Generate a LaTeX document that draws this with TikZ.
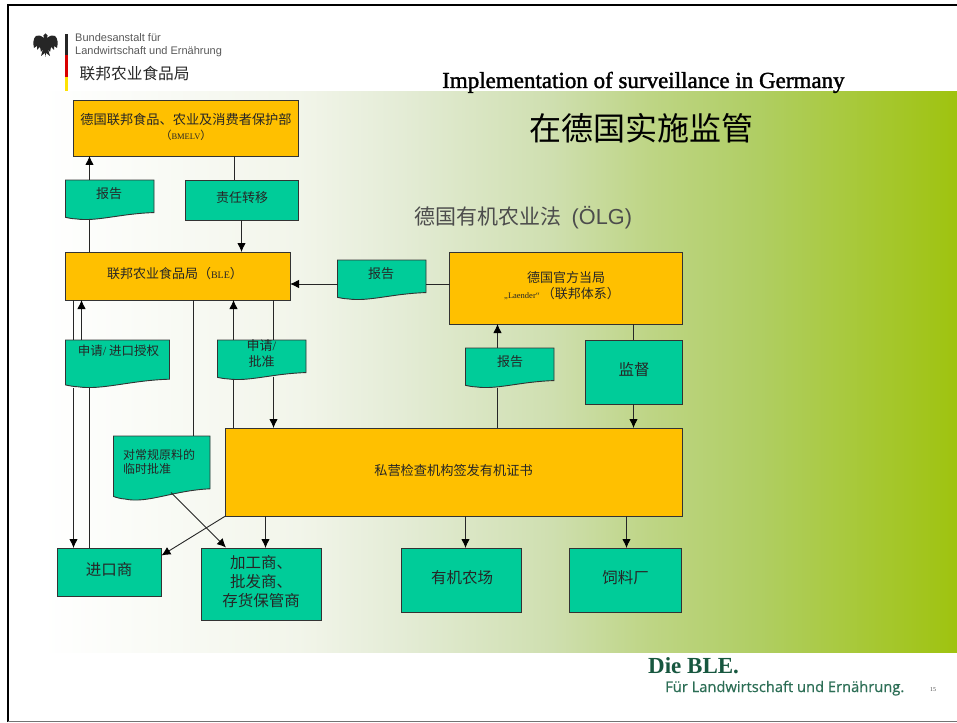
\documentclass[tikz,border=0pt]{standalone}
\usepackage{fontspec}
\setmainfont{Liberation Serif}
\newfontfamily\cjk{Noto Sans CJK SC}
\newfontfamily\titlefont[FakeBold=1.5]{Liberation Serif}
\newfontfamily\logosans[FakeBold=0.6]{Open Sans}
\newfontfamily\arialfont{Liberation Sans}
\usetikzlibrary{arrows.meta}
\definecolor{boxorange}{HTML}{FFC000}
\definecolor{boxteal}{HTML}{00CC99}
\definecolor{logogreen}{HTML}{17573F}
\definecolor{logogreenb}{HTML}{2C6E55}
\definecolor{gradb}{RGB}{242,245,234}
\definecolor{gradc}{RGB}{228,236,214}
\definecolor{gradd}{RGB}{207,223,176}
\definecolor{grade}{RGB}{190,213,133}
\definecolor{gradf}{RGB}{176,206,100}
\definecolor{gradg}{RGB}{159,195,15}
\pgfdeclarehorizontalshading{bandshade}{100bp}{
  color(0bp)=(white); color(25bp)=(white);
  color(39bp)=(gradb);
  color(44.6bp)=(gradc);
  color(52.8bp)=(gradd);
  color(58.2bp)=(grade);
  color(64bp)=(gradf);
  color(75bp)=(gradg);
  color(100bp)=(gradg)}
\tikzset{
  x=1pt,y=-1pt,
  orangebox/.style={draw=black!80,line width=0.9pt,fill=boxorange,inner sep=0,outer sep=0,rectangle},
  tealbox/.style={draw=black!80,line width=0.9pt,fill=boxteal,inner sep=0,outer sep=0,rectangle},
  docedge/.style={draw=black!80,line width=0.9pt,fill=boxteal},
  docframe/.style={inner sep=0,outer sep=0,rectangle},
  zh/.style n args={2}{font=\cjk\fontsize{#1}{#2}\selectfont,align=center,inner sep=0,text=black!85},
  link/.style={draw=black!85,line width=0.9pt},
  arr/.style={link,-{Latex[length=9pt,width=8.5pt,black]}},
}
% name, x1, y1, x2, y2: wave-bottomed document box with a named frame
\newcommand{\docbox}[5]{%
  \path[docedge] (#2,#3) -- (#4,#3) -- (#4,{#3+0.825*(#5-#3)})
    .. controls ({#2+0.62*(#4-#2)},{#3+0.85*(#5-#3)}) and ({#2+0.35*(#4-#2)},{#3+1.06*(#5-#3)})
    .. ({#2+0.12*(#4-#2)},{#3+0.985*(#5-#3)})
    .. controls ({#2+0.07*(#4-#2)},{#3+0.98*(#5-#3)}) and ({#2+0.03*(#4-#2)},{#3+0.96*(#5-#3)})
    .. (#2,{#3+0.945*(#5-#3)}) -- cycle;
  \node[docframe,minimum width={(#4-#2)*1pt},minimum height={(#5-#3)*1pt}] (#1) at ({(#2+#4)/2},{(#3+#5)/2}) {};}
% name, style, x1, y1, x2, y2
\newcommand{\rectbox}[6]{%
  \node[#2,minimum width={(#5-#3)*1pt},minimum height={(#6-#4)*1pt}] (#1) at ({(#3+#5)/2},{(#4+#6)/2}) {};}
\begin{document}
\begin{tikzpicture}
\useasboundingbox (0,0) rectangle (957,722);
\fill[white] (0,0) rectangle (957,722);
% gradient band
\shade[shading=bandshade] (42,92) rectangle (957,652);
% slide frame
\draw[black,line width=2.4pt] (8,722) -- (8,5) -- (957,5);
\draw[black!55,line width=1pt] (8,721) -- (957,721);
% logo
\fill[black!85] (45.5,33.5) .. controls (43,34) and (43,37) .. (44,38)
  .. controls (42,36) and (40,35) .. (36,36) .. controls (33,38) and (33,44) .. (34,48)
  -- (37,46) -- (37,50) -- (40,47) -- (41,52) -- (43,49) -- (41,56) -- (45,53) -- (45.5,57)
  -- (46,53) -- (50,56) -- (48,49) -- (50,52) -- (51,47) -- (54,50) -- (54,46) -- (57,48)
  .. controls (58,44) and (58,38) .. (55,36) .. controls (51,35) and (49,36) .. (47,38)
  .. controls (48,37) and (48,34) .. (45.5,33.5) -- cycle;
\fill[black!85] (64.8,34.5) rectangle (67.6,55);
\fill[red!85!black] (64.8,55) rectangle (67.6,77);
\fill[yellow!85!orange] (64.8,77) rectangle (67.6,91.5);
\node[font=\arialfont\fontsize{11}{13}\selectfont,text=black!65,align=left,inner sep=0,anchor=north west] (logotext) at (75,33) {Bundesanstalt für\\Landwirtschaft und Ernährung};
\node[zh={15.7}{18},anchor=west] (bletop) at (79.5,74) {联邦农业食品局};
% titles
\node[font=\titlefont\fontsize{23}{26}\selectfont,inner sep=0,anchor=base west] (titleen) at (442,88) {Implementation of surveillance in Germany};
\node[zh={32}{36},text=black] (titlezh) at (641.5,128) {在德国实施监管};
\node[font=\cjk\fontsize{21}{24}\selectfont,text=black!70,inner sep=0,anchor=west] (law) at (414,218) {德国有机农业法\hspace{10.5pt}{\arialfont\fontsize{21.7}{24}\selectfont (ÖLG)}};
% documents (drawn before the boxes' labels)
\docbox{repa}{65.5}{180}{154}{219.5}
\docbox{repb}{337.5}{260}{426}{299.5}
\docbox{repc}{465.5}{348}{554}{387.5}
\docbox{appl}{65.5}{340}{169.5}{387.5}
\docbox{appr}{217.5}{340}{306}{379.5}
\docbox{temp}{113.5}{436}{210}{500}
% boxes
\rectbox{bmelv}{orangebox}{73.5}{100}{298}{156}
\rectbox{ble}{orangebox}{65.5}{252}{290}{300}
\rectbox{laender}{orangebox}{449.5}{252}{682}{324}
\rectbox{insp}{orangebox}{225.5}{428}{682}{516}
\rectbox{resp}{tealbox}{185.5}{180}{298}{220}
\rectbox{superv}{tealbox}{585.5}{340}{682}{404}
\rectbox{importer}{tealbox}{57.5}{548}{161.5}{596}
\rectbox{proc}{tealbox}{201.5}{548}{321.5}{620}
\rectbox{farm}{tealbox}{401.5}{548}{521.5}{612}
\rectbox{feed}{tealbox}{569.5}{548}{681.5}{612}
% x positions of the vertical connectors
\coordinate (xa) at (89.5,0);
\coordinate (xb) at (234,0);
\coordinate (xc) at (241.5,0);
\coordinate (xd) at (73.5,0);
\coordinate (xe) at (81.5,0);
\coordinate (xf) at (193.5,0);
\coordinate (xg) at (233.5,0);
\coordinate (xh) at (273.5,0);
\coordinate (xi) at (497.5,0);
\coordinate (xj) at (633.5,0);
\coordinate (xk) at (265.5,0);
\coordinate (xl) at (465.5,0);
\coordinate (xm) at (626.5,0);
\coordinate (yr) at (0,284);
\coordinate (yrr) at (0,387.5);
\coordinate (ya) at (0,219.5);
\coordinate (yb) at (0,387.8);
\coordinate (yc) at (0,376.5);
\coordinate (yd) at (0,380);
% connectors
\draw[arr] (repa.north -| xa) -- (bmelv.south -| xa);
\draw[link] (ble.north -| xa) -- (ya -| xa);
\draw[link] (bmelv.south -| xb) -- (resp.north -| xb);
\draw[arr] (resp.south -| xc) -- (ble.north -| xc);
\draw[link] (laender.west |- yr) -- (repb.east |- yr);
\draw[arr] (repb.west |- yr) -- (ble.east |- yr);
\draw[link] (ble.south -| xd) -- (appl.north -| xd);
\draw[arr] (yb -| xd) -- (importer.north -| xd);
\draw[arr] (appl.north -| xe) -- (ble.south -| xe);
\draw[link] (yb -| xa) -- (importer.north -| xa);
\draw[link] (ble.south -| xf) -- (temp.north -| xf);
\draw[arr] (appr.north -| xg) -- (ble.south -| xg);
\draw[link] (yd -| xg) -- (insp.north -| xg);
\draw[link] (ble.south -| xh) -- (appr.north -| xh);
\draw[arr] (yc -| xh) -- (insp.north -| xh);
\draw[arr] (repc.north -| xi) -- (laender.south -| xi);
\draw[link] (insp.north -| xi) -- (yrr -| xi);
\draw[link] (laender.south -| xj) -- (superv.north -| xj);
\draw[arr] (superv.south -| xj) -- (insp.north -| xj);
\draw[arr] (insp.south -| xk) -- (proc.north -| xk);
\draw[arr] (insp.south -| xl) -- (farm.north -| xl);
\draw[arr] (insp.south -| xm) -- (feed.north -| xm);
\draw[arr] (insp.south west) -- (importer.east |- 0,555.5);
\coordinate (tempout) at (171,492.5);
\coordinate (procin) at (226,547.5);
\draw[arr] (tempout) -- (procin);
% labels
\node[zh={13.2}{17}] (tbmelv) at (186,119) {德国联邦食品、农业及消费者保护部};
\node[zh={11}{13}] (tbmelvb) at (186,135.5) {（{\rmfamily\fontsize{8.5}{9}\selectfont BMELV}）};
\node[zh={13}{16}] (trepa) at (109,194) {报告};
\node[zh={13}{16}] (tresp) at (242,198) {责任转移};
\node[zh={13}{16}] (tble) at (175,274) {联邦农业食品局（{\rmfamily\fontsize{10}{9}\selectfont BLE}）};
\node[zh={13}{16}] (trepb) at (381,274) {报告};
\node[zh={13}{17}] (tlaender) at (566,278) {德国官方当局};
\node[zh={13}{17}] (tlaenderb) at (562,294) {{\rmfamily\fontsize{8.5}{9}\selectfont „Laender“}\,（联邦体系）};
\node[zh={13}{16}] (trepc) at (510,362) {报告};
\node[zh={15.5}{18}] (tsuperv) at (634,370) {监督};
\node[zh={12.5}{16}] (tappl) at (118.5,351) {申请{\rmfamily /} 进口授权};
\node[zh={13}{16}] (tappr) at (261.5,354) {申请{\rmfamily /}\\批准};
\node[zh={12}{14},align=left,anchor=west] (ttemp) at (123,462) {对常规原料的\\临时批准};
\node[zh={13.2}{16}] (tinsp) at (453.5,470) {私营检查机构签发有机证书};
\node[zh={15.5}{18}] (timp) at (109,570) {进口商};
\node[zh={15.5}{19}] (tproc) at (261,582) {加工商、\\批发商、\\存货保管商};
\node[zh={15.5}{18}] (tfarm) at (462,578) {有机农场};
\node[zh={15.5}{18}] (tfeed) at (625.5,578) {饲料厂};
% footer
\node[font=\rmfamily\bfseries\fontsize{23}{26}\selectfont,text=logogreen,inner sep=0,anchor=base west] (diebletext) at (648,673) {Die BLE.};
\node[font=\logosans\fontsize{14.7}{16}\selectfont,text=logogreenb,inner sep=0,anchor=base west] (fuertext) at (665,692) {Für Landwirtschaft und Ernährung.};
\node[font=\rmfamily\fontsize{6}{7}\selectfont,text=black!70,inner sep=0] (pageno) at (933,690) {15};
\end{tikzpicture}
\end{document}
